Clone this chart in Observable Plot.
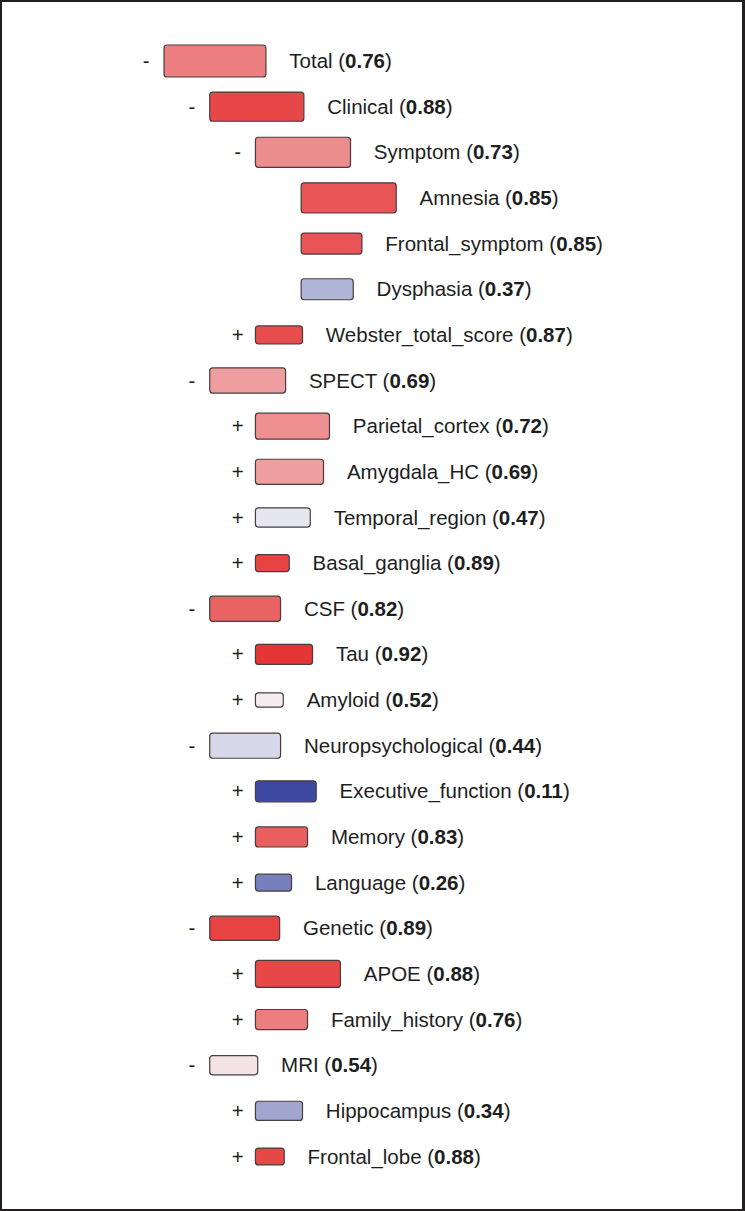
<!DOCTYPE html>
<html>
<head>
<meta charset="utf-8">
<script src="https://cdn.jsdelivr.net/npm/d3@7"></script>
<script src="https://cdn.jsdelivr.net/npm/@observablehq/plot@0.6"></script>
<style>
  html, body { margin: 0; padding: 0; background: #fff; }
  #wrap { position: relative; width: 745px; height: 1211px; overflow: hidden; }
  #wrap svg { position: absolute; left: 0; top: 0; }
  #border { position: absolute; left: 0; top: 0; width: 745px; height: 1211px;
            box-sizing: border-box; border: 2px solid #231f20; border-right-width: 3px; pointer-events: none; }
</style>
</head>
<body>
<div id="wrap"><div id="border"></div></div>
<script>
// Node names (tree order, top to bottom)
const names = [
  "Total", "Clinical", "Symptom", "Amnesia", "Frontal_symptom", "Dysphasia",
  "Webster_total_score", "SPECT", "Parietal_cortex", "Amygdala_HC",
  "Temporal_region", "Basal_ganglia", "CSF", "Tau", "Amyloid",
  "Neuropsychological", "Executive_function", "Memory", "Language",
  "Genetic", "APOE", "Family_history", "MRI", "Hippocampus", "Frontal_lobe"
];
// Score shown in parentheses (drives colour)
const scores = [
  0.76, 0.88, 0.73, 0.85, 0.85, 0.37,
  0.87, 0.69, 0.72, 0.69,
  0.47, 0.89, 0.82, 0.92, 0.52,
  0.44, 0.11, 0.83, 0.26,
  0.89, 0.88, 0.76, 0.54, 0.34, 0.88
];
// Tree depth of each node
const depths = [
  0, 1, 2, 3, 3, 3,
  2, 1, 2, 2,
  2, 2, 1, 2, 2,
  1, 2, 2, 2,
  1, 2, 2, 1, 2, 2
];
// Expand / collapse marker
const markers = [
  "-", "-", "-", "", "", "",
  "+", "-", "+", "+",
  "+", "+", "-", "+", "+",
  "-", "+", "+", "+",
  "-", "+", "+", "-", "+", "+"
];
// Box length (relative weight, in indent units)
const boxLength = [
  2.23, 2.06, 2.08, 2.08, 1.33, 1.14,
  1.03, 1.66, 1.62, 1.49,
  1.20, 0.74, 1.55, 1.25, 0.61,
  1.55, 1.33, 1.14, 0.79,
  1.53, 1.86, 1.14, 1.05, 1.03, 0.63
];
// Box thickness (relative weight, in row units)
const boxThickness = [
  0.70, 0.64, 0.66, 0.66, 0.46, 0.46,
  0.39, 0.55, 0.57, 0.55,
  0.42, 0.37, 0.55, 0.44, 0.31,
  0.55, 0.46, 0.44, 0.37,
  0.53, 0.59, 0.44, 0.42, 0.42, 0.37
];

const nodes = names.map((name, i) => ({
  name, score: scores[i], depth: depths[i], marker: markers[i],
  len: boxLength[i], thick: boxThickness[i], row: i
}));

const font = "'Liberation Sans', Arial, Helvetica, sans-serif";

const chart = Plot.plot({
  width: 745,
  height: 1211,
  marginTop: 61,
  marginBottom: 54.5,
  marginLeft: 164,
  marginRight: 0,
  style: { fontFamily: font, background: "transparent", overflow: "visible" },
  x: { type: "linear", domain: [0, 12.71], axis: null },
  y: { type: "linear", domain: [0, 24], reverse: true, axis: null },
  color: {
    type: "linear",
    domain: [0.15, 0.5, 0.92],
    range: ["#3d49a1", "#f6f5f8", "#e63535"],
    interpolate: "rgb",
    clamp: true
  },
  marks: [
    Plot.rect(nodes, {
      x1: d => d.depth,
      x2: d => d.depth + d.len,
      y1: d => d.row - d.thick / 2,
      y2: d => d.row + d.thick / 2,
      fill: "score",
      stroke: "#4a3c3e",
      strokeWidth: 1.2,
      rx: 3
    }),
    Plot.text(nodes.filter(d => d.marker), {
      x: d => d.depth - 0.4,
      y: "row",
      text: "marker",
      fontSize: 20.5,
      fill: "#1e1e1e",
      textAnchor: "middle"
    }),
    Plot.text(nodes, {
      x: d => d.depth + d.len + 0.5,
      y: "row",
      text: d => `${d.name} (${d.score.toFixed(2)})`,
      fontSize: 20.5,
      fill: "#1e1e1e",
      textAnchor: "start"
    })
  ]
});

// Make the score inside the parentheses bold
d3.select(chart).selectAll("text").each(function() {
  const s = this.textContent;
  const m = s.match(/^(.*\()([0-9.]+)(\))$/);
  if (!m) return;
  const t = d3.select(this);
  t.text(null);
  t.append("tspan").text(m[1]);
  t.append("tspan").attr("font-weight", "bold").text(m[2]);
  t.append("tspan").text(m[3]);
});

document.getElementById("wrap").insertBefore(chart, document.getElementById("border"));
</script>
</body>
</html>
